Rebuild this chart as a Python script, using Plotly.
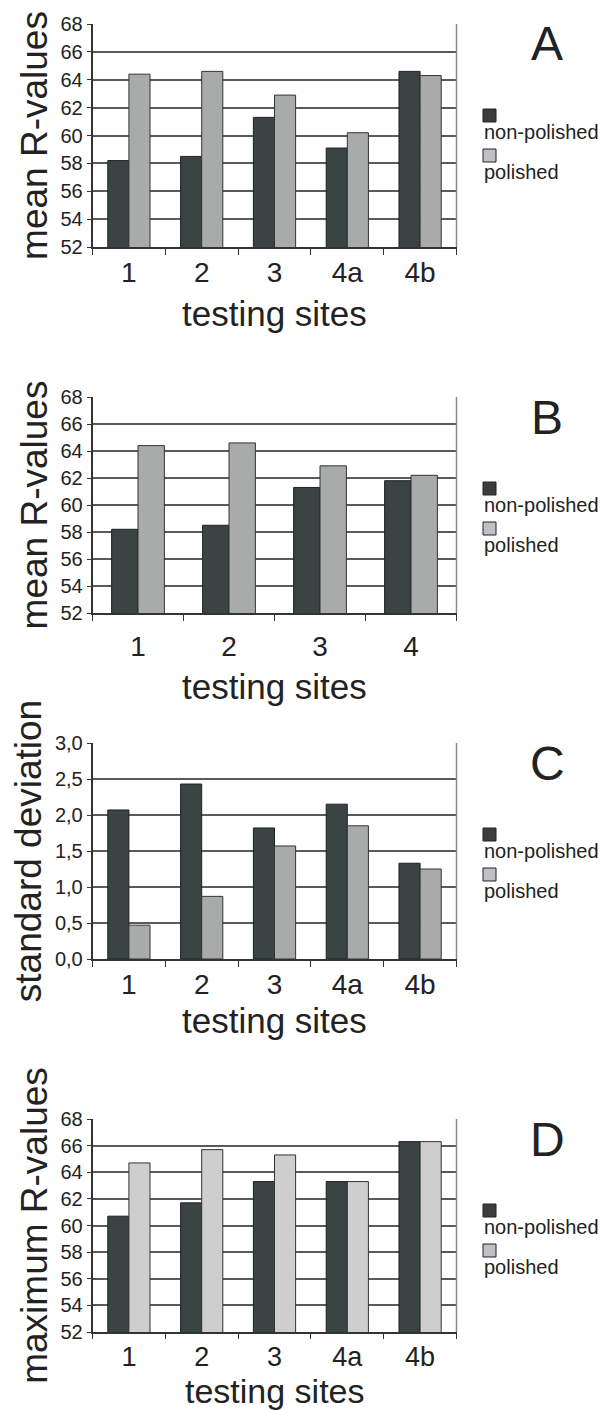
import plotly.graph_objects as go
from plotly.subplots import make_subplots

# ---- data ----
sites_5 = ["1", "2", "3", "4a", "4b"]
sites_4 = ["1", "2", "3", "4"]

a_non = [58.2, 58.5, 61.3, 59.1, 64.6]
a_pol = [64.4, 64.6, 62.9, 60.2, 64.3]

b_non = [58.2, 58.5, 61.3, 61.8]
b_pol = [64.4, 64.6, 62.9, 62.2]

c_non = [2.07, 2.43, 1.82, 2.15, 1.33]
c_pol = [0.47, 0.87, 1.57, 1.85, 1.25]

d_non = [60.7, 61.7, 63.3, 63.3, 66.3]
d_pol = [64.7, 65.7, 65.3, 63.3, 66.3]

r_ticks = [52, 54, 56, 58, 60, 62, 64, 66, 68]
sd_ticks = [0.0, 0.5, 1.0, 1.5, 2.0, 2.5, 3.0]
sd_labels = ["0,0", "0,5", "1,0", "1,5", "2,0", "2,5", "3,0"]

panel_letters = ["A", "B", "C", "D"]
y_titles = ["mean R-values", "mean R-values", "standard deviation", "maximum R-values"]
x_title = "testing sites"
series_names = ["non-polished", "polished"]

# page body has an 8px margin, so the figure is drawn from (8, 8)
OFF = 8
W, H = 613 - OFF, 1410 - OFF


def px(x):
    return (x - OFF) / W


def py(y):
    return 1 - (y - OFF) / H


DARK = "#3a4443"
LIGHT = "#a9abaa"
LIGHTER = "#cecece"

fig = make_subplots(rows=4, cols=1)

panels = [
    (sites_5, a_non, a_pol, LIGHT),
    (sites_4, b_non, b_pol, LIGHT),
    (sites_5, c_non, c_pol, LIGHT),
    (sites_5, d_non, d_pol, LIGHTER),
]
for i, (cats, non, pol, pcol) in enumerate(panels):
    fig.add_trace(go.Bar(x=cats, y=non, name=series_names[0],
                         marker=dict(color=DARK, line=dict(color="#1e2222", width=1)), showlegend=False), row=i + 1, col=1)
    fig.add_trace(go.Bar(x=cats, y=pol, name=series_names[1],
                         marker=dict(color=pcol, line=dict(color="#333", width=1)), showlegend=False), row=i + 1, col=1)

# pixel layout (top, bottom) of each plot area in the target picture
px_rows = [(24, 247), (397, 613), (743, 959), (1119, 1332)]
x_left, x_right = 92.5, 456.5
x_title_y = [313, 686, 1020, 1391]
x_title_size = [35, 35, 35, 34]
x_tick_size = [28, 28, 28, 27]
x_ticklen = [6, 6, 6, 5]
tick_standoff = [None, 8, None, None]
y_standoff = [2, 2, 2, 2]

FONT = "Liberation Sans, Arial, sans-serif"

for i, (top, bot) in enumerate(px_rows):
    ax = "" if i == 0 else str(i + 1)
    dom_y = [py(bot), py(top)]
    if i == 2:
        yax = dict(range=[0, 3.0], tickvals=sd_ticks, ticktext=sd_labels)
    else:
        yax = dict(range=[52, 68], tickvals=r_ticks)
    xextra = {}
    if tick_standoff[i] is not None:
        xextra["ticklabelstandoff"] = tick_standoff[i]
    fig.update_layout(**{
        "yaxis" + ax: dict(
            domain=dom_y, automargin=False, showgrid=True, gridcolor="#5a5a5a", gridwidth=1.5,
            showline=True, linecolor="#333", linewidth=1.5,
            ticks="outside", ticklen=4, tickcolor="#333",
            tickfont=dict(family=FONT, size=20, color="#222"),
            title=dict(text=y_titles[i], font=dict(family=FONT, size=37, color="#222"), standoff=y_standoff[i]),
            zeroline=False, fixedrange=True, **yax),
        "xaxis" + ax: dict(
            domain=[px(x_left), px(x_right)], automargin=False, showline=True, linecolor="#333", linewidth=1.5,
            ticks="outside", ticklen=x_ticklen[i], tickcolor="#333", tickson="boundaries",
            tickfont=dict(family=FONT, size=x_tick_size[i], color="#222"),
            showgrid=False, fixedrange=True, **xextra),
    })
    xref = "x" + ax + " domain"
    yref = "y" + ax + " domain"
    # right border
    fig.add_shape(type="line", xref=xref, yref=yref, x0=1, x1=1, y0=0, y1=1,
                  line=dict(color="#8a8a8a", width=1.5))
    # x-axis title
    fig.add_annotation(text=x_title, xref=xref, yref="paper", x=0.5, y=py(x_title_y[i]),
                       showarrow=False, font=dict(family=FONT, size=x_title_size[i], color="#222"),
                       xanchor="center", yanchor="middle")
    # panel letter
    fig.add_annotation(text=panel_letters[i], xref="paper", yref="paper", x=px(547), y=py(top + 20),
                       showarrow=False, font=dict(family=FONT, size=48, color="#222"),
                       xanchor="center", yanchor="middle")
    # legend
    sq = 13
    lx = 483
    offs = [(top + 85, top + 108), (top + 125, top + 148)]
    cols = ["#3c3c3c", "#c0c0c4"]
    for k in range(2):
        sy, ty = offs[k]
        fig.add_shape(type="rect", xref="paper", yref="paper", x0=px(lx), x1=px(lx + sq),
                      y0=py(sy + sq), y1=py(sy), fillcolor=cols[k], line=dict(color="#222", width=1))
        fig.add_annotation(text=series_names[k], xref="paper", yref="paper", x=px(lx - 1), y=py(ty),
                           showarrow=False, font=dict(family=FONT, size=20, color="#222"),
                           xanchor="left", yanchor="middle")

fig.update_layout(
    width=W, height=H, margin=dict(l=0, r=0, t=0, b=0, autoexpand=False),
    paper_bgcolor="white", plot_bgcolor="white",
    barmode="group", bargap=0.42, bargroupgap=0,
    showlegend=False, font=dict(family=FONT, color="#222"),
)

fig.write_html("out.html")
